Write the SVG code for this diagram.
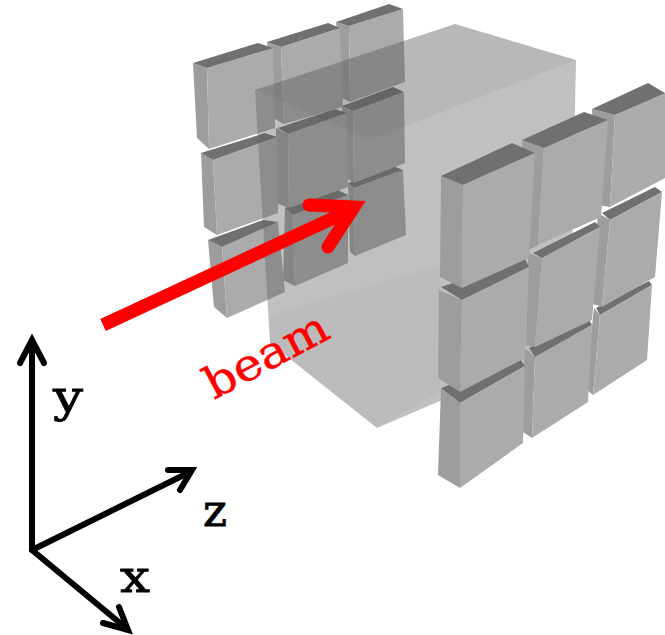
<svg xmlns="http://www.w3.org/2000/svg" width="665" height="635" viewBox="0 0 665 635">
<defs><filter id="soft" x="-5%" y="-5%" width="110%" height="110%"><feGaussianBlur stdDeviation="0.7"/></filter></defs>
<style>
.t{fill:#707070}.s{fill:#9d9d9d}.f{fill:#ababab}
.box{fill:#616161;fill-opacity:.4}
.ax{fill:none;stroke:#000;stroke-width:6;stroke-linecap:round;stroke-linejoin:miter}
.lb{font-family:"DejaVu Serif",serif;font-size:44px;fill:#000;stroke:#000;stroke-width:.8}
</style>
<rect width="665" height="635" fill="#fff"/>
<g id="left-array" filter="url(#soft)">
<g id="L33"><polygon class="s" points="348,183 354,188 355,256 350,252"/><polygon class="f" points="354,188 403,170 406,235 355,256"/><polygon class="t" points="348,183 393,166 403,170 354,188"/></g>
<g id="L23"><polygon class="s" points="342,106 353,111 354,183 346,178"/><polygon class="f" points="353,111 404,92 405,163 354,183"/><polygon class="t" points="342,106 393,87 404,92 353,111"/></g>
<g id="L13"><polygon class="s" points="336,22 349,26 350,102 342,98"/><polygon class="f" points="349,26 403,9 405,82 350,102"/><polygon class="t" points="336,22 389,4 403,9 349,26"/></g>
<g id="L32"><polygon class="s" points="285,208 293,215 295,286 283,280"/><polygon class="f" points="293,215 348,195 348,263 295,286"/><polygon class="t" points="285,208 338,190 348,195 293,215"/></g>
<g id="L22"><polygon class="s" points="276,128 288,134 289,208 276,203"/><polygon class="f" points="288,134 347,113 348,187 289,208"/><polygon class="t" points="278,128 335,109 347,113 288,134"/></g>
<g id="L12"><polygon class="s" points="267,42 281,47 284,124 273,118"/><polygon class="f" points="281,47 340,28 343,107 284,124"/><polygon class="t" points="267,42 328,23 340,28 281,47"/></g>
<g id="L31"><polygon class="s" points="208,240 222,247 227,318 214,307"/><polygon class="f" points="222,247 278,222 285,292 227,318"/><polygon class="t" points="208,240 263,220 278,222 222,247"/></g>
<g id="L21"><polygon class="s" points="201,153 213,160 217,235 204,227"/><polygon class="f" points="213,160 277,137 278,213 217,235"/><polygon class="t" points="201,153 265,133 277,137 213,160"/></g>
<g id="L11"><polygon class="s" points="193,63 207,68 209,149 197,138"/><polygon class="f" points="207,68 273,48 275,128 209,149"/><polygon class="t" points="193,63 258,43 273,48 207,68"/></g>
</g>
<g id="volume" filter="url(#soft)">
<polygon class="box" points="255,90 455,24 576,60 570,345 377,428 270,343"/>
<polygon fill="#000" fill-opacity=".035" points="255,90 455,24 576,60 370,140"/>
<polygon fill="#000" fill-opacity=".025" points="270,315 440,265 440,392 377,428 270,343"/>
</g>
<g id="right-array" filter="url(#soft)">
<g id="R33"><polygon class="s" points="594,308 600,315 593,395 585,388"/><polygon class="t" points="596,308 600,315 652,285 649,281"/><polygon class="f" points="600,315 652,285 647,360 593,395"/></g>
<g id="R23"><polygon class="s" points="598,213 610,220 602,307 590,303"/><polygon class="t" points="602,213 610,220 662,192 655,187"/><polygon class="f" points="610,220 662,192 655,277 602,307"/></g>
<g id="R13"><polygon class="s" points="592,109 615,115 610,207 598,205"/><polygon class="t" points="592,109 648,83 665,93 665,94 615,115"/><polygon class="f" points="615,115 665,93 665,178 610,207"/></g>
<g id="R32"><polygon class="s" points="525,348 535,357 532,438 520,430"/><polygon class="t" points="529,348 535,357 592,325 588,318"/><polygon class="f" points="535,357 592,325 588,402 532,438"/></g>
<g id="R22"><polygon class="s" points="528,253 542,258 535,347 526,345"/><polygon class="t" points="533,253 542,258 600,227 595,222"/><polygon class="f" points="542,258 600,227 592,320 535,347"/></g>
<g id="R12"><polygon class="s" points="522,140 544,148 538,245 525,252"/><polygon class="t" points="522,140 584,112 608,120 544,148"/><polygon class="f" points="544,148 608,120 601,217 538,245"/></g>
<g id="R31"><polygon class="s" points="441,388 460,403 460,488 438,475"/><polygon class="t" points="441,388 460,403 525,366 520,359"/><polygon class="f" points="460,403 525,366 523,443 460,488"/></g>
<g id="R21"><polygon class="s" points="439,290 462,300 460,392 438,378"/><polygon class="t" points="441,287 462,300 529,267 525,259"/><polygon class="f" points="462,300 529,267 525,358 460,392"/></g>
<g id="R11"><polygon class="s" points="441,176 463,185 462,288 440,277"/><polygon class="t" points="441,176 512,143 535,153 463,185"/><polygon class="f" points="463,185 535,153 529,258 462,288"/></g>
</g>
<g id="connectors">
<line x1="103" y1="325" x2="355" y2="208" stroke="#f00" stroke-width="13"/>
<polyline points="309,205 354,207 328,247" fill="none" stroke="#f00" stroke-width="13" stroke-linecap="round" stroke-linejoin="miter"/>
<polyline class="ax" points="32,550 32,342"/>
<polyline class="ax" points="20,363 32,340 44,363"/>
<line class="ax" x1="32" y1="550" x2="190" y2="472"/>
<polyline class="ax" points="168,470 192,470 180,490"/>
<line class="ax" x1="32" y1="550" x2="126" y2="628"/>
<polyline class="ax" points="103,623 128,630 119,607"/>
</g>
<g id="labels">
<text class="lb" x="53" y="412" textLength="30" lengthAdjust="spacingAndGlyphs">y</text>
<text class="lb" x="203" y="526" textLength="24" lengthAdjust="spacingAndGlyphs">z</text>
<text class="lb" x="120" y="592" textLength="30" lengthAdjust="spacingAndGlyphs">x</text>
<text x="0" y="0" transform="translate(214,400) rotate(-28)" font-family="DejaVu Serif, serif" font-size="44" textLength="134" lengthAdjust="spacingAndGlyphs" fill="#f00" stroke="#f00" stroke-width=".5">beam</text>
</g>
</svg>
